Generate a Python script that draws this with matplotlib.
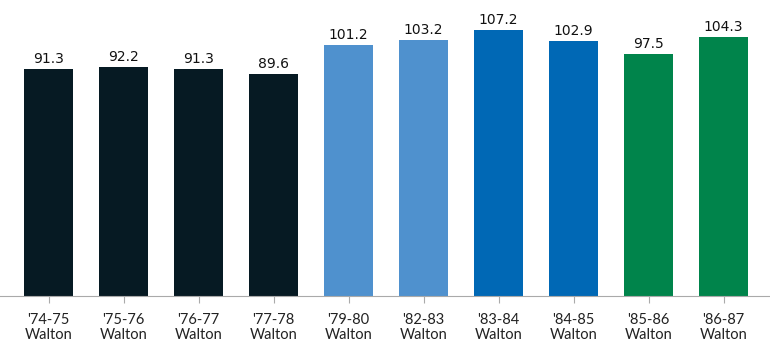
import matplotlib
matplotlib.use("Agg")
import matplotlib.pyplot as plt

categories = ["'74-75\nWalton", "'75-76\nWalton", "'76-77\nWalton", "'77-78\nWalton",
              "'79-80\nWalton", "'82-83\nWalton", "'83-84\nWalton", "'84-85\nWalton",
              "'85-86\nWalton", "'86-87\nWalton"]
values = [91.3, 92.2, 91.3, 89.6, 101.2, 103.2, 107.2, 102.9, 97.5, 104.3]
colors = ["#061a23"] * 4 + ["#4f91ce"] * 2 + ["#0068b5"] * 2 + ["#00844b"] * 2

fig = plt.figure(figsize=(7.7, 3.53), dpi=100)
ax = fig.add_axes([0, 57 / 353, 1, 296 / 353])
x = list(range(len(values)))
bars = ax.bar(x, values, width=0.65, color=colors)
for xi, v in zip(x, values):
    ax.text(xi, v + 1.2, f"{v}", ha="center", va="bottom", fontsize=10,
            family="DejaVu Sans", color="#111111")
ax.set_xlim(-0.647, 9.62)
ax.set_ylim(0, 119.3)
ax.set_xticks(x)
ax.set_xticklabels(categories, fontsize=10.5, family="Lato", color="#222222", linespacing=1.1)
ax.tick_params(axis="x", length=5, color="#aaaaaa", pad=7)
ax.set_yticks([])
for s in ["top", "right", "left"]:
    ax.spines[s].set_visible(False)
ax.spines["bottom"].set_color("#aaaaaa")
fig.savefig("out.png", dpi=100)
